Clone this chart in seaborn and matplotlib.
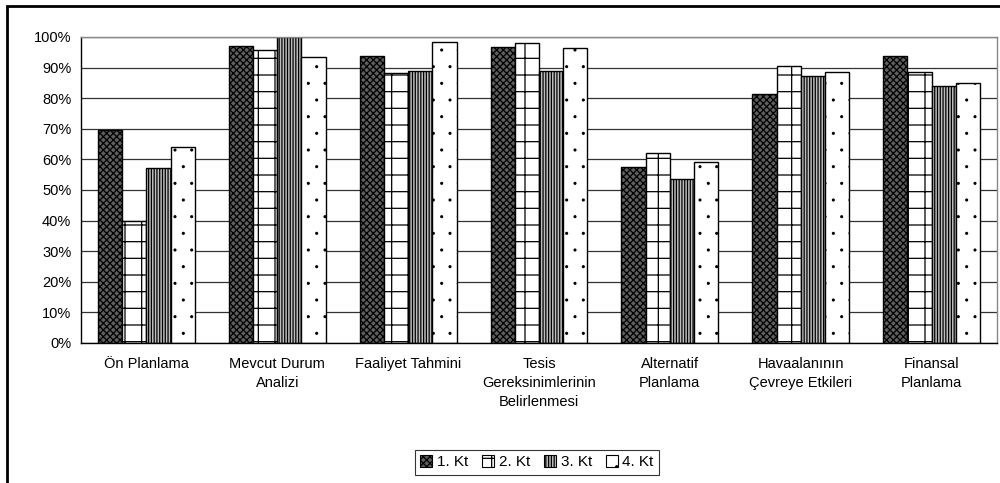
import numpy as np
import pandas as pd
import matplotlib
matplotlib.use("Agg")
import matplotlib.pyplot as plt
import matplotlib.patches as mpatches
import matplotlib.hatch
from matplotlib.ticker import PercentFormatter, FixedLocator
import seaborn as sns

# data
categories = ["Ön Planlama", "Mevcut Durum\nAnalizi", "Faaliyet Tahmini",
              "Tesis\nGereksinimlerinin\nBelirlenmesi", "Alternatif\nPlanlama",
              "Havaalanının\nÇevreye Etkileri", "Finansal\nPlanlama"]
series = ["1. Kt", "2. Kt", "3. Kt", "4. Kt"]
kt1 = [69.6, 97.0, 93.9, 96.8, 57.6, 81.4, 93.9]
kt2 = [40.0, 95.8, 88.3, 97.9, 62.1, 90.5, 88.5]
kt3 = [57.2, 100.0, 89.0, 89.0, 53.6, 87.4, 83.9]
kt4 = [64.2, 93.4, 98.4, 96.4, 59.0, 88.5, 85.0]

rows = []
for name, vals in zip(series, [kt1, kt2, kt3, kt4]):
    for c, v in zip(categories, vals):
        rows.append({"cat": c, "kt": name, "val": v / 100.0})
df = pd.DataFrame(rows)

sns.set_style("white")
plt.rcParams['font.family'] = ['Liberation Sans', 'DejaVu Sans']
plt.rcParams['text.color'] = 'black'
plt.rcParams['xtick.color'] = 'black'
plt.rcParams['ytick.color'] = 'black'
plt.rcParams['hatch.linewidth'] = 0.9
# smaller dots for the dotted pattern
matplotlib.hatch.SmallFilledCircles.size = 0.055

fig = plt.figure(figsize=(10, 4.83), dpi=100)
ax = fig.add_axes([0.081, 0.2899, 0.916, 0.6335])

faces = ["#5e5e5e", "white", "#bdbdbd", "white"]
hatches = ["xxxxx", "+", "||||||", "."]

sns.barplot(data=df, x="cat", y="val", hue="kt", order=categories, hue_order=series,
            palette=faces, width=0.74, edgecolor="black", linewidth=1.0,
            saturation=1, ax=ax, legend=False)

for cont, h, fc in zip(ax.containers, hatches, faces):
    for p in cont.patches:
        p.set_hatch(h)
        p.set_facecolor(fc)
        p.set_edgecolor("black")

ax.set_ylim(0, 1.0)
ax.set_xlim(-0.5, len(categories) - 0.5)
ax.set_yticks(np.arange(0, 1.01, 0.1))
ax.yaxis.set_major_formatter(PercentFormatter(1.0, decimals=0))
ax.yaxis.grid(True, color="#333333", linewidth=0.9)
ax.set_axisbelow(True)
ax.set_xlabel("")
ax.set_ylabel("")

ax.tick_params(axis="x", which="major", length=0, pad=10, labelsize=10.5)
for lbl in ax.get_xticklabels():
    lbl.set_linespacing(1.45)
ax.xaxis.set_minor_locator(FixedLocator(np.arange(0.5, len(categories) - 0.5, 1.0)))
ax.tick_params(axis="x", which="minor", length=4, width=1, color="black", direction="out")
ax.tick_params(axis="y", length=4, width=1, color="black", direction="out", labelsize=10.5, pad=3)

for s in ["left", "bottom"]:
    ax.spines[s].set_color("black")
    ax.spines[s].set_linewidth(1.0)
for s in ["top", "right"]:
    ax.spines[s].set_color("#888888")
    ax.spines[s].set_linewidth(1.0)

handles = [mpatches.Patch(facecolor=fc, edgecolor="black", hatch=h, linewidth=0.8)
           for fc, h in zip(faces, hatches)]
leg = fig.legend(handles, series, loc="center", bbox_to_anchor=(0.537, 0.043), ncol=4,
                 frameon=True, fancybox=False, fontsize=11, handlelength=0.8,
                 handleheight=0.8, handletextpad=0.3, columnspacing=0.9,
                 borderpad=0.35)
leg.get_frame().set_edgecolor("black")
leg.get_frame().set_linewidth(0.8)

# outer chart border (only top and left edges visible in the crop)
border = mpatches.Rectangle((0.007, -0.1), 1.2, 1.0876, transform=fig.transFigure,
                            fill=False, edgecolor="black", linewidth=2, clip_on=False)
fig.patches.append(border)

fig.savefig("out.png", dpi=100)
